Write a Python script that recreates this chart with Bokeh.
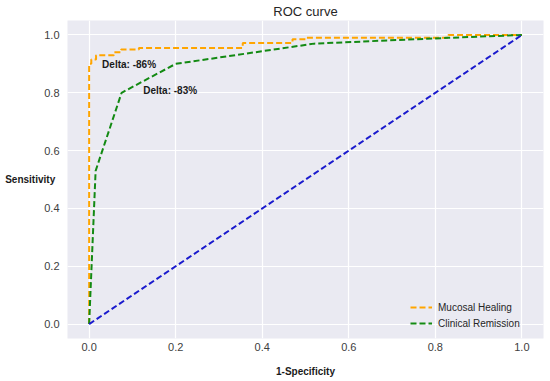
from bokeh.plotting import figure
from bokeh.models import Label, Legend, LegendItem, FixedTicker, Range1d
from bokeh.embed import file_html
from bokeh.resources import INLINE

# Data
mh_fpr = [0.0, 0.0, 0.005, 0.005, 0.016, 0.016, 0.057, 0.057, 0.074, 0.074, 0.115, 0.115, 0.355, 0.355, 0.47, 0.47, 0.50, 0.50, 0.83, 0.83, 1.0]
mh_tpr = [0.0, 0.90, 0.90, 0.915, 0.915, 0.93, 0.93, 0.94, 0.94, 0.95, 0.95, 0.955, 0.955, 0.972, 0.972, 0.985, 0.985, 0.99, 0.99, 1.0, 1.0]
cr_fpr = [0.0, 0.015, 0.075, 0.20, 0.52, 0.83, 1.0]
cr_tpr = [0.0, 0.53, 0.80, 0.90, 0.97, 0.99, 1.0]
diag_x = [0.0, 1.0]
diag_y = [0.0, 1.0]
ticks = [0.0, 0.2, 0.4, 0.6, 0.8, 1.0]
tick_labels = {0.0: "0.0", 0.2: "0.2", 0.4: "0.4", 0.6: "0.6", 0.8: "0.8", 1.0: "1.0"}
series_names = ["Mucosal Healing", "Clinical Remission"]
annotations = [("Delta: -86%", 0.030, 0.897), ("Delta: -83%", 0.125, 0.807)]

FONT = "Liberation Sans"

p = figure(width=550, height=381, output_backend="svg", toolbar_location=None,
           x_range=Range1d(-0.05, 1.05), y_range=Range1d(-0.05, 1.05),
           min_border_left=67, min_border_right=7, min_border_top=0, min_border_bottom=43)

p.title.text = "ROC curve"
p.title.align = "center"
p.title.text_font = FONT
p.title.text_font_style = "normal"
p.title.text_font_size = "13px"
p.title.text_color = "#262626"
p.title.standoff = 3

p.background_fill_color = "#EAEAF2"
p.outline_line_color = None
p.grid.grid_line_color = "white"
p.grid.grid_line_width = 1.2

for ax in (p.xaxis[0], p.yaxis[0]):
    ax.ticker = FixedTicker(ticks=ticks)
    ax.major_label_overrides = tick_labels
    ax.axis_line_color = None
    ax.major_tick_line_color = None
    ax.minor_tick_line_color = None
    ax.major_tick_out = 0
    ax.major_tick_in = 0
    ax.minor_tick_out = 0
    ax.minor_tick_in = 0
    ax.major_label_text_font = FONT
    ax.major_label_text_font_size = "11px"
    ax.major_label_text_color = "#404040"
p.xgrid.ticker = FixedTicker(ticks=ticks)
p.ygrid.ticker = FixedTicker(ticks=ticks)

p.xaxis.major_label_standoff = 4
p.yaxis.major_label_standoff = 8
p.xaxis.axis_label = "1-Specificity"
p.xaxis.axis_label_text_font = FONT
p.xaxis.axis_label_text_font_style = "bold"
p.xaxis.axis_label_text_font_size = "10px"
p.xaxis.axis_label_text_color = "#1a1a1a"
p.xaxis.axis_label_standoff = 12

yax = p.yaxis[0]
if "axis_label_orientation" in yax.properties():
    yax.axis_label = "Sensitivity"
    yax.axis_label_orientation = "horizontal"
    yax.axis_label_text_font = FONT
    yax.axis_label_text_font_style = "bold"
    yax.axis_label_text_font_size = "10px"
    yax.axis_label_text_color = "#1a1a1a"
    yax.axis_label_standoff = -14
else:
    p.add_layout(Label(x=-64, y=0.5, x_units="screen", text="Sensitivity", text_font=FONT,
                       text_font_style="bold", text_font_size="10px", text_baseline="middle",
                       text_color="#1a1a1a"))

r1 = p.line(mh_fpr, mh_tpr, line_color="#FFA500", line_width=2, line_dash="6 3")
r2 = p.line(cr_fpr, cr_tpr, line_color="#138A13", line_width=2, line_dash="6 3")
p.line(diag_x, diag_y, line_color="#1A1ACD", line_width=2, line_dash="6 3")

for txt, x, y in annotations:
    p.add_layout(Label(x=x, y=y, text=txt, text_font=FONT, text_font_style="bold",
                       text_font_size="10px", text_baseline="middle", text_color="#1a1a1a"))

legend = Legend(items=[LegendItem(label=series_names[0], renderers=[r1]),
                       LegendItem(label=series_names[1], renderers=[r2])],
                location=(343, 8), background_fill_alpha=0, border_line_color=None,
                label_text_font=FONT, label_text_font_size="10px", label_text_color="#262626",
                glyph_width=22, glyph_height=14, label_height=14, spacing=2, padding=2, margin=0,
                label_standoff=6)
p.add_layout(legend)

open("out.html", "w").write(file_html(p, INLINE))
